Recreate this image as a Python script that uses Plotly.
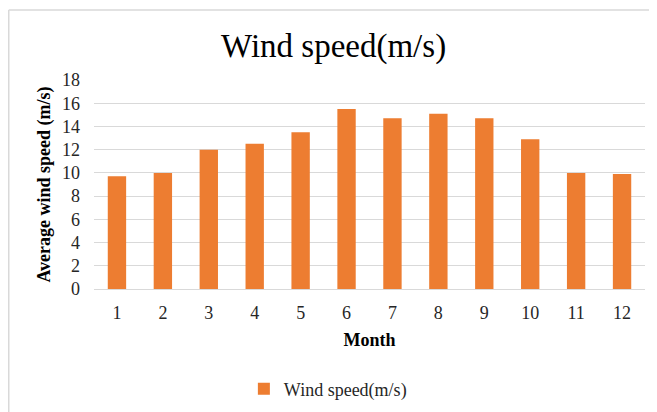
import plotly.graph_objects as go

months = [str(m) for m in range(1, 13)]
wind_speed = [9.7, 10.0, 12.0, 12.5, 13.5, 15.5, 14.7, 15.1, 14.7, 12.9, 10.0, 9.9]
y_ticks = [0, 2, 4, 6, 8, 10, 12, 14, 16, 18]

SERIF = "Liberation Serif, Times New Roman, serif"

fig = go.Figure()
fig.add_trace(go.Bar(
    x=months, y=wind_speed, name="Wind speed(m/s)",
    marker=dict(color="#ED7D31", line=dict(width=0)),
    showlegend=True,
))

fig.update_layout(
    width=657, height=412,
    margin=dict(l=86, r=20, t=72, b=131),
    paper_bgcolor="white", plot_bgcolor="white",
    bargap=0.6,
    font=dict(family=SERIF, color="#262626", size=18),
    title=dict(text="Wind speed(m/s)", x=0.4956, xanchor="center", y=0.91, yanchor="middle",
               font=dict(family=SERIF, size=33, color="#000000")),
    xaxis=dict(
        type="category", showgrid=False, showline=True, linecolor="#d9d9d9", linewidth=1,
        ticks="", automargin=False, ticklabelstandoff=7,
        tickfont=dict(family=SERIF, size=18, color="#262626"),
        title=dict(text="<b>Month</b>", font=dict(family=SERIF, size=18, color="#000000"), standoff=11),
    ),
    yaxis=dict(
        range=[0, 18], tickvals=y_ticks, showgrid=True, gridcolor="#d9d9d9", gridwidth=1,
        zeroline=False, showline=False, ticks="", ticklabelstandoff=13, automargin=False,
        tickfont=dict(family=SERIF, size=18, color="#262626"),
        title=dict(text="<b>Average wind speed (m/s)</b>", font=dict(family=SERIF, size=18, color="#000000"), standoff=6),
    ),
    legend=dict(orientation="h", x=0.272, xanchor="left", y=-0.39, yanchor="top",
                font=dict(family=SERIF, size=18, color="#262626"), itemwidth=30),
    shapes=[
        dict(type="line", xref="paper", yref="paper", x0=-0.1547, x1=1.05, y0=1.335, y1=1.335,
             line=dict(color="#d9d9d9", width=1.5)),
        dict(type="line", xref="paper", yref="paper", x0=-0.1547, x1=-0.1547, y0=1.335, y1=-0.7,
             line=dict(color="#d9d9d9", width=1.5)),
    ],
)

fig.write_html("out.html")
